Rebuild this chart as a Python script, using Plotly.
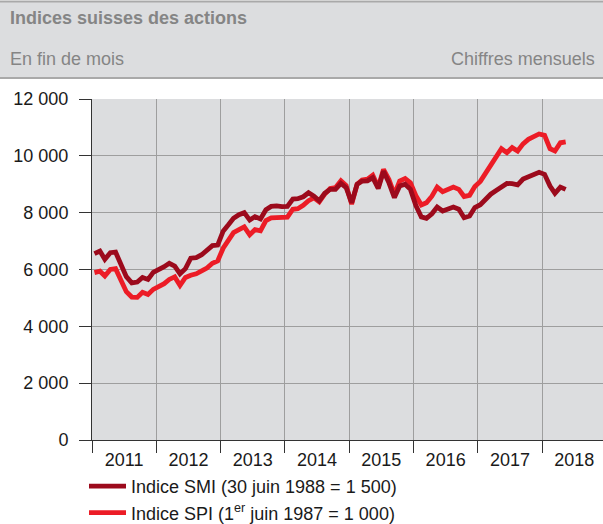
import pandas as pd
import plotly.graph_objects as go

# Monthly end-of-month values, Jan 2011 .. May 2018
months = pd.date_range("2011-01-01", periods=89, freq="MS") + pd.Timedelta(days=14)

smi = [6560, 6650, 6360, 6590, 6610, 6150, 5750, 5530, 5560, 5720, 5650, 5900,
       5980, 6100, 6220, 6120, 5850, 6030, 6400, 6420, 6520, 6700, 6840, 6860,
       7350, 7580, 7800, 7930, 8000, 7740, 7860, 7780, 8100, 8220, 8240, 8210,
       8220, 8480, 8490, 8560, 8700, 8580, 8420, 8680, 8820, 8820, 9030, 8880,
       8350, 9000, 9110, 9120, 9230, 8850, 9460, 9050, 8530, 8940, 9000, 8820,
       8250, 7850, 7800, 7960, 8200, 8060, 8140, 8200, 8120, 7820, 7880, 8180,
       8280, 8500, 8650, 8780, 8920, 9030, 9020, 8980, 9180, 9250, 9360, 9420,
       9350, 8940, 8680, 8900, 8820]

spi = [5890, 5940, 5770, 6000, 6030, 5600, 5220, 5030, 5020, 5200, 5120, 5300,
       5400, 5500, 5650, 5740, 5440, 5720, 5800, 5850, 5950, 6050, 6220, 6300,
       6750, 7050, 7300, 7400, 7500, 7220, 7400, 7360, 7720, 7820, 7820, 7820,
       7840, 8120, 8140, 8260, 8420, 8520, 8380, 8650, 8850, 8880, 9120, 8950,
       8300, 9000, 9150, 9180, 9320, 8900, 9520, 9170, 8640, 9110, 9200, 9050,
       8600, 8270, 8350, 8580, 8900, 8740, 8840, 8900, 8820, 8570, 8610, 8920,
       9100, 9380, 9660, 9950, 10250, 10110, 10290, 10170, 10420, 10580, 10700, 10770,
       10720, 10250, 10170, 10460, 10490]

y_ticks = [0, 2000, 4000, 6000, 8000, 10000, 12000]
y_tick_labels = ["0", "2 000", "4 000", "6 000", "8 000", "10 000", "12 000"]

name_smi = "Indice SMI (30 juin 1988 = 1 500)"
name_spi = "Indice SPI (1<sup>er</sup> juin 1987 = 1 000)"

title = "Indices suisses des actions"
subtitle_left = "En fin de mois"
subtitle_right = "Chiffres mensuels"

COL_SMI = "#9C0A1C"
COL_SPI = "#EC1C26"
BG = "#DCDDDF"
GRID = "#9E9E9E"
TXT = "#858585"
FONT = "Liberation Sans, Arial, sans-serif"

fig = go.Figure()
fig.add_trace(go.Scatter(x=months, y=spi, name=name_spi, mode="lines",
                         line=dict(color=COL_SPI, width=4.8)))
fig.add_trace(go.Scatter(x=months, y=smi, name=name_smi, mode="lines",
                         line=dict(color=COL_SMI, width=4.8)))

L, T, W, H = 92, 99, 511, 341

def px_x(p):
    return (p - L) / W

def px_y(p):
    return 1 + (T - p) / H

fig.update_layout(
    width=603, height=524,
    margin=dict(l=L, r=0, t=T, b=524 - T - H, autoexpand=False),
    paper_bgcolor="white",
    plot_bgcolor=BG,
    font=dict(family=FONT, size=18, color="#1a1a1a"),
    showlegend=True,
    legend=dict(x=px_x(84), y=px_y(468), xanchor="left", yanchor="top",
                traceorder="reversed", bgcolor="rgba(0,0,0,0)",
                font=dict(size=18, color="#1a1a1a"), itemwidth=37,
                tracegroupgap=0),
    xaxis=dict(
        type="date",
        range=["2011-01-01", "2018-12-13"],
        dtick="M12", tick0="2011-01-01", tickformat="%Y",
        ticklabelmode="period",
        ticks="outside", ticklen=12, tickcolor="#333", tickwidth=1,
        ticklabelstandoff=-9,
        showgrid=True, gridcolor=GRID, gridwidth=1,
        showline=True, linecolor="#333", linewidth=1,
        zeroline=False,
    ),
    yaxis=dict(
        range=[0, 12000],
        tickvals=y_ticks, ticktext=y_tick_labels,
        ticks="outside", ticklen=12, tickcolor="#333", tickwidth=1,
        ticklabelstandoff=7,
        showgrid=True, gridcolor=GRID, gridwidth=1,
        showline=True, linecolor="#333", linewidth=1,
        zeroline=False,
    ),
    shapes=[
        dict(type="rect", xref="paper", yref="paper",
             x0=px_x(0), x1=px_x(603), y0=px_y(78), y1=px_y(1.5),
             fillcolor=BG, line=dict(width=0), layer="below"),
        dict(type="line", xref="paper", yref="paper",
             x0=px_x(0), x1=px_x(603), y0=px_y(1.5), y1=px_y(1.5),
             line=dict(color="#A9A9A9", width=2)),
        dict(type="line", xref="paper", yref="paper",
             x0=px_x(0), x1=px_x(603), y0=px_y(78), y1=px_y(78),
             line=dict(color="#A9A9A9", width=2)),
    ],
    annotations=[
        dict(text="<b>" + title + "</b>", xref="paper", yref="paper",
             x=px_x(8), y=px_y(18), xanchor="left", yanchor="middle",
             showarrow=False, font=dict(size=18, color=TXT)),
        dict(text=subtitle_left, xref="paper", yref="paper",
             x=px_x(8), y=px_y(58.5), xanchor="left", yanchor="middle",
             showarrow=False, font=dict(size=18, color=TXT)),
        dict(text=subtitle_right, xref="paper", yref="paper",
             x=px_x(597), y=px_y(58.5), xanchor="right", yanchor="middle",
             showarrow=False, font=dict(size=18, color=TXT)),
    ],
)

fig.write_html("out.html", config={"displayModeBar": False},
               post_script="document.body.style.margin='0';document.body.style.overflow='hidden';")
